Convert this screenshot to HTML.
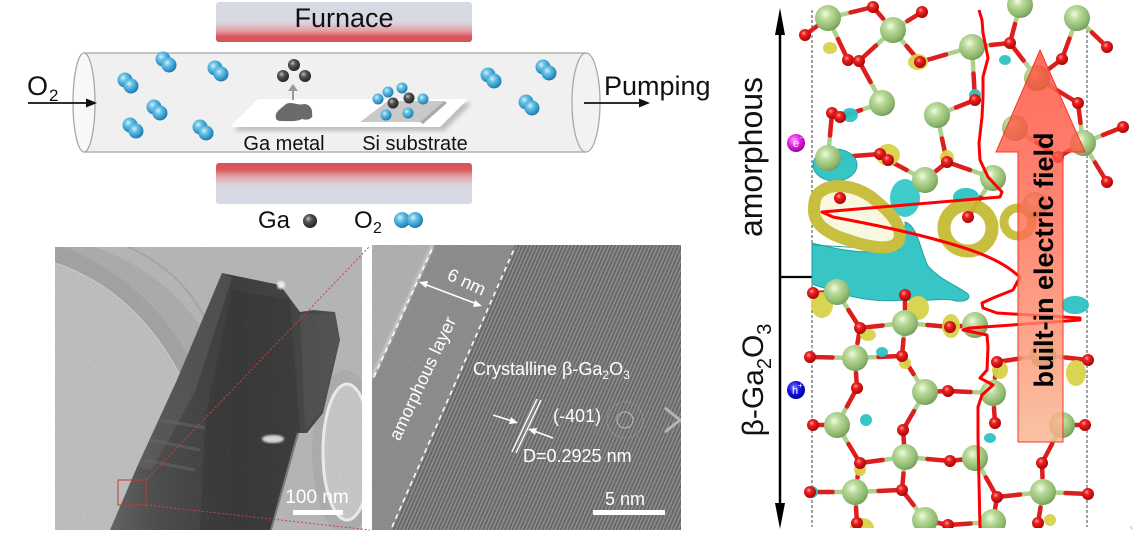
<!DOCTYPE html>
<html><head><meta charset="utf-8">
<style>
html,body{margin:0;padding:0;background:#fff;}
svg{display:block;}
text{font-family:"Liberation Sans",Arial,sans-serif;}
</style></head>
<body>
<svg width="1138" height="545" viewBox="0 0 1138 545" xmlns="http://www.w3.org/2000/svg">
<defs>
<linearGradient id="furnTop" x1="0" y1="0" x2="0" y2="1">
<stop offset="0" stop-color="#d5dbe5"/><stop offset="0.5" stop-color="#d9d7df"/>
<stop offset="0.72" stop-color="#e3a0a4"/><stop offset="0.86" stop-color="#da585e"/><stop offset="1" stop-color="#d6525a"/>
</linearGradient>
<linearGradient id="furnBot" x1="0" y1="0" x2="0" y2="1">
<stop offset="0" stop-color="#d6525a"/><stop offset="0.16" stop-color="#da585e"/>
<stop offset="0.32" stop-color="#e3a0a4"/><stop offset="0.55" stop-color="#d9d7df"/><stop offset="1" stop-color="#d5dbe5"/>
</linearGradient>
<radialGradient id="blue" cx=".38" cy=".35" r=".7"><stop offset="0" stop-color="#d8f2fc"/><stop offset=".3" stop-color="#6cc4e8"/><stop offset=".75" stop-color="#2c93c6"/><stop offset="1" stop-color="#1d6f9c"/></radialGradient>
<radialGradient id="dark" cx=".38" cy=".35" r=".7"><stop offset="0" stop-color="#c0c0c0"/><stop offset=".35" stop-color="#555"/><stop offset="1" stop-color="#1e1e1e"/></radialGradient>
<radialGradient id="gG" cx=".4" cy=".35" r=".7"><stop offset="0" stop-color="#f2fbe6"/><stop offset=".3" stop-color="#bcdc9c"/><stop offset=".8" stop-color="#8ab46a"/><stop offset="1" stop-color="#6a9050"/></radialGradient>
<radialGradient id="rO" cx=".4" cy=".35" r=".7"><stop offset="0" stop-color="#ffa0a0"/><stop offset=".3" stop-color="#ee2222"/><stop offset="1" stop-color="#a00000"/></radialGradient>
<radialGradient id="pink" cx=".4" cy=".35" r=".7"><stop offset="0" stop-color="#ff9cff"/><stop offset=".5" stop-color="#e020e0"/><stop offset="1" stop-color="#900090"/></radialGradient>
<radialGradient id="bl2" cx=".4" cy=".35" r=".7"><stop offset="0" stop-color="#8080ff"/><stop offset=".5" stop-color="#1010e0"/><stop offset="1" stop-color="#000090"/></radialGradient>
<linearGradient id="arr" gradientUnits="userSpaceOnUse" x1="0" y1="50" x2="0" y2="442">
<stop offset="0" stop-color="#ff4636"/><stop offset="0.45" stop-color="#ff6a52"/><stop offset="1" stop-color="#f8b48c"/>
</linearGradient>
<linearGradient id="rod" x1="0" y1="0" x2="1" y2="0">
<stop offset="0" stop-color="#585858"/><stop offset="0.2" stop-color="#3e3e3e"/><stop offset="0.55" stop-color="#2c2c2c"/><stop offset="0.85" stop-color="#363636"/><stop offset="1" stop-color="#444"/>
</linearGradient>
<pattern id="fr" width="3.4" height="20" patternUnits="userSpaceOnUse" patternTransform="rotate(23.7)">
<rect width="3.4" height="20" fill="#5e5e5e"/><rect width="1.3" height="20" fill="#8c8c8c"/>
</pattern>
<filter id="noise" x="0" y="0" width="100%" height="100%">
<feTurbulence type="fractalNoise" baseFrequency="0.8" numOctaves="2" seed="4"/>
<feColorMatrix type="matrix" values="1 0 0 0 0  1 0 0 0 0  1 0 0 0 0  0 0 0 0 0.12"/>
</filter>
<filter id="blur2"><feGaussianBlur stdDeviation="2"/></filter>
<filter id="blur1"><feGaussianBlur stdDeviation="1"/></filter>
<filter id="blur3"><feGaussianBlur stdDeviation="4"/></filter>
<clipPath id="cl1"><rect x="55" y="247" width="307" height="283"/></clipPath>
<clipPath id="cl2"><rect x="372" y="245" width="309" height="285"/></clipPath>
<clipPath id="cl3"><rect x="790" y="0" width="348" height="528"/></clipPath>
<circle id="gA" r="13" fill="url(#gG)"/>
<circle id="rA" r="6" fill="url(#rO)"/>
<g id="o2m"><circle cx="-3" cy="-3" r="7.5" fill="url(#blue)"/><circle cx="3" cy="3" r="7.5" fill="url(#blue)"/></g>
</defs>

<!-- ===== Top-left schematic ===== -->
<rect x="216" y="2" width="256" height="40" rx="3" fill="url(#furnTop)"/>
<text x="344" y="27" font-size="27" text-anchor="middle" fill="#111">Furnace</text>
<rect x="216" y="163" width="256" height="41" rx="3" fill="url(#furnBot)"/>

<rect x="84" y="53" width="502" height="99" fill="#f0f0f0"/>
<line x1="84" y1="53" x2="586" y2="53" stroke="#b3b3b3" stroke-width="1.5"/>
<line x1="84" y1="152" x2="586" y2="152" stroke="#b3b3b3" stroke-width="1.5"/>
<ellipse cx="84" cy="102.5" rx="11" ry="49.5" fill="#f8f8f8" stroke="#a8a8a8" stroke-width="1.3"/>
<ellipse cx="586" cy="102.5" rx="14" ry="49.5" fill="#f2f2f2" stroke="#a8a8a8" stroke-width="1.3"/>

<polygon points="234,131 262,103 472,103 444,131" fill="#bdbdbd" filter="url(#blur2)"/>
<polygon points="230,127 258,99 468,99 440,127" fill="#fff"/>
<path d="M276,118 C274,112 282,108 286,104 C292,101 298,106 304,104 C310,104 313,110 312,114 C314,118 308,121 302,119 C296,122 288,121 282,121 C278,121 276,120 276,118 Z" fill="#6b6b6b"/>
<line x1="293" y1="100" x2="293" y2="90" stroke="#9a9a9a" stroke-width="2"/>
<polygon points="288,91 298,91 293,84" fill="#9a9a9a"/>
<circle cx="283" cy="76" r="6" fill="url(#dark)"/><circle cx="294" cy="65" r="6" fill="url(#dark)"/><circle cx="305" cy="76" r="6" fill="url(#dark)"/>
<polygon points="360,122 388,101 444,101 420,122" fill="#c9c9c9"/>
<polygon points="420,122 444,101 447,103 423,124" fill="#a9a9a9"/>
<circle cx="378" cy="99" r="5.5" fill="url(#blue)"/><circle cx="388" cy="92" r="5.5" fill="url(#blue)"/><circle cx="402" cy="88" r="5.5" fill="url(#blue)"/>
<circle cx="423" cy="99" r="5.5" fill="url(#blue)"/><circle cx="386" cy="115" r="5.5" fill="url(#blue)"/><circle cx="408" cy="113" r="5.5" fill="url(#blue)"/>
<circle cx="393" cy="103" r="5.5" fill="url(#dark)"/><circle cx="409" cy="98" r="5.5" fill="url(#dark)"/>
<text x="284" y="150" font-size="20" text-anchor="middle" fill="#111">Ga metal</text>
<text x="415" y="150" font-size="20" text-anchor="middle" fill="#111">Si substrate</text>

<use href="#o2m" x="128" y="83"/><use href="#o2m" x="166" y="62"/>
<use href="#o2m" x="218" y="71"/><use href="#o2m" x="157" y="110"/>
<use href="#o2m" x="133" y="128"/><use href="#o2m" x="203" y="130"/>
<use href="#o2m" x="491" y="78"/><use href="#o2m" x="546" y="70"/><use href="#o2m" x="529" y="105"/>

<text x="27" y="95" font-size="27" fill="#111">O</text><text x="49" y="101" font-size="17" fill="#111">2</text>
<line x1="28" y1="103" x2="88" y2="103" stroke="#111" stroke-width="1.8"/>
<polygon points="97,103 86,98.5 86,107.5" fill="#111"/>
<text x="604" y="95" font-size="27" fill="#111">Pumping</text>
<line x1="584" y1="103" x2="641" y2="103" stroke="#111" stroke-width="1.8"/>
<polygon points="650,103 639,98.5 639,107.5" fill="#111"/>

<text x="258" y="228" font-size="24" fill="#111">Ga</text>
<circle cx="310" cy="221" r="7" fill="url(#dark)"/>
<text x="354" y="228" font-size="24" fill="#111">O</text><text x="373" y="233" font-size="16" fill="#111">2</text>
<circle cx="402" cy="220" r="8" fill="url(#blue)"/><circle cx="415" cy="220" r="8" fill="url(#blue)"/>

<!-- ===== Left TEM ===== -->
<g clip-path="url(#cl1)">
<rect x="55" y="247" width="307" height="283" fill="#b3b3b3"/>
<path d="M55,263 Q135,290 180,375 L110,530 L55,530 Z" fill="#bcbcbc"/>
<path d="M55,263 Q135,290 180,375 L188,355 Q145,280 65,247 L55,247 Z" fill="#9e9e9e"/>
<path d="M65,247 Q145,280 188,355 L200,325 Q160,270 95,247 Z" fill="#a8a8a8"/>
<path d="M128,247 Q180,270 205,318" stroke="#a2a2a2" stroke-width="2" fill="none"/>
<path d="M55,263 Q135,290 180,375" stroke="#cacaca" stroke-width="1.2" fill="none"/>
<ellipse cx="345" cy="452" rx="33" ry="82" fill="#a9a9a9"/>
<ellipse cx="347" cy="452" rx="24" ry="68" fill="#c6c6c6" stroke="#f0f0f0" stroke-width="3"/>
<polygon points="222,273 280,285 300,312 313,310 335,312 340,340 323,413 307,433 297,433 293,447 270,530 110,530 137,467 177,380" fill="url(#rod)"/>
<polygon points="232,290 290,300 300,430 272,530 200,530 205,420" fill="#222" opacity=".45"/>
<polygon points="177,380 222,273 232,278 195,392 152,470 137,467" fill="#6a6a6a" opacity=".3"/>
<polygon points="300,314 335,314 338,340 322,410 305,430" fill="#474747" opacity=".6"/>
<path d="M150,440 L200,450 M145,460 L195,470 M160,420 L205,428" stroke="#5e5e5e" stroke-width="3" opacity=".5"/>
<ellipse cx="273" cy="439" rx="11" ry="4" fill="#d8d8d8" filter="url(#blur1)"/>
<circle cx="281" cy="285" r="4" fill="#f4f4f4" filter="url(#blur1)"/>
<rect x="55" y="247" width="307" height="283" filter="url(#noise)"/>
</g>
<rect x="118" y="480" width="28" height="25" fill="none" stroke="#c0392b" stroke-width="1"/>
<line x1="146" y1="480" x2="370" y2="246" stroke="#d04040" stroke-width="1" stroke-dasharray="2,2"/>
<line x1="146" y1="505" x2="370" y2="530" stroke="#d04040" stroke-width="1" stroke-dasharray="2,2"/>
<rect x="293" y="510" width="50" height="5" fill="#fff"/>
<text x="317" y="503" font-size="19" text-anchor="middle" fill="#fff">100 nm</text>

<!-- ===== Right HRTEM ===== -->
<g clip-path="url(#cl2)">
<rect x="372" y="245" width="309" height="285" fill="url(#fr)"/>
<polygon points="433,245 515,245 392,530 372,530 372,375" fill="#858585"/>
<polygon points="372,245 433,245 372,378" fill="#adadad"/>
<line x1="433" y1="245" x2="372" y2="378" stroke="#d0d0d0" stroke-width="3" filter="url(#blur1)"/>
<rect x="372" y="245" width="309" height="285" filter="url(#noise)"/>
<circle cx="625" cy="420" r="18" fill="none" stroke="#aaa" stroke-width="1" stroke-dasharray="1,2"/>
<circle cx="625" cy="420" r="8" fill="none" stroke="#bbb" stroke-width="1"/>
<path d="M665,408 L680,420 L665,432" stroke="#b5b5b5" stroke-width="3" fill="none"/>
</g>
<line x1="374" y1="377" x2="433" y2="247" stroke="#fff" stroke-width="1.5" stroke-dasharray="5,4"/>
<line x1="392" y1="527" x2="515" y2="247" stroke="#fff" stroke-width="1.5" stroke-dasharray="5,4"/>
<line x1="424" y1="284" x2="477" y2="304" stroke="#fff" stroke-width="1.5"/>
<polygon points="419,282 428,281 426,288" fill="#fff"/>
<polygon points="482,306 473,307 475,300" fill="#fff"/>
<text x="0" y="0" font-size="18" fill="#fff" transform="translate(446,279) rotate(25)">6 nm</text>
<text x="0" y="0" font-size="18" fill="#fff" text-anchor="middle" transform="translate(428,381) rotate(-64.8)">amorphous layer</text>
<text x="473" y="375" font-size="18" fill="#fff">Crystalline β-Ga<tspan font-size="12" dy="4">2</tspan><tspan dy="-4">O</tspan><tspan font-size="12" dy="4">3</tspan></text>
<line x1="512" y1="452" x2="537" y2="399" stroke="#fff" stroke-width="1.4"/>
<line x1="516" y1="453" x2="541" y2="400" stroke="#fff" stroke-width="1.4"/>
<line x1="493" y1="415" x2="512" y2="421" stroke="#fff" stroke-width="1.5"/>
<polygon points="518,423 509,424 511,417" fill="#fff"/>
<line x1="553" y1="438" x2="534" y2="431" stroke="#fff" stroke-width="1.5"/>
<polygon points="528,429 537,428 535,435" fill="#fff"/>
<text x="553" y="422" font-size="18" fill="#fff">(-401)</text>
<text x="523" y="462" font-size="18" fill="#fff">D=0.2925 nm</text>
<text x="605" y="505" font-size="18" fill="#fff">5 nm</text>
<rect x="593" y="510" width="72" height="5" fill="#fff"/>

<!-- ===== Right panel ===== -->
<line x1="780" y1="30" x2="780" y2="506" stroke="#000" stroke-width="2.5"/>
<polygon points="780,8 775,35 785,35" fill="#000"/>
<polygon points="780,529 775,503 785,503" fill="#000"/>
<line x1="780" y1="277" x2="812" y2="277" stroke="#000" stroke-width="2.2"/>
<line x1="812" y1="10" x2="812" y2="527" stroke="#444" stroke-width="1" stroke-dasharray="3,2"/>
<line x1="1087" y1="10" x2="1087" y2="527" stroke="#444" stroke-width="1" stroke-dasharray="3,2"/>
<text x="0" y="0" font-size="32" text-anchor="middle" fill="#111" transform="translate(762,157) rotate(-90)">amorphous</text>
<text x="0" y="0" font-size="30" text-anchor="middle" fill="#111" transform="translate(763,380) rotate(-90)">β-Ga<tspan font-size="20" dy="8">2</tspan><tspan dy="-8">O</tspan><tspan font-size="20" dy="8">3</tspan></text>
<circle cx="796" cy="143" r="9" fill="url(#pink)"/>
<text x="796" y="147" font-size="11" fill="#fff" text-anchor="middle">e</text><text x="800" y="140" font-size="8" fill="#fff">-</text>
<circle cx="796" cy="390" r="9" fill="url(#bl2)"/>
<text x="795" y="394" font-size="11" fill="#fff" text-anchor="middle">h</text><text x="798" y="388" font-size="8" fill="#fff">+</text>

<g clip-path="url(#cl3)">
<!-- bonds green halves -->
<path stroke="#aed08e" stroke-width="4.5" stroke-linecap="round" fill="none" d="M828 18L816.5 26.5M828 18L838 39M828 18L850.5 12.5M893 30L876 45.5M893 30L883 18.5M893 30L907.5 21M893 30L906.5 46M972 47L946 54.5M972 47L991 45M972 47L973.5 73.5M1020 5L1015 24M1037 78L1023.5 60.5M1037 78L1049.5 68.5M1037 78L1057.5 90.5M1077 18L1069.5 38.5M1077 18L1092 32.5M1083 143L1080.5 123M1083 143L1103 135M1083 143L1095 162.5M1083 143L1070.5 150M1015 128L1036.5 142.5M882 103L870.5 82M882 103L861 110M828 158L830 135.5M828 158L854 156M937 115L956 107.5M937 115L942 138.5M925 180L936 171M925 180L906.5 170M993 178L970 170M993 178L980.5 197.5M837 292L825 292.5M837 292L848.5 310M905 323L882.5 325.5M905 323L905 309M905 323L927.5 325M905 323L903.5 339.5M975 325L962.5 326M855 358L857.5 343M855 358L832.5 357.5M855 358L878.5 357M855 358L856 373M925 392L913.5 374M925 392L936.5 391.5M925 392L914 411M993 393L970.5 392M993 393L995 377.5M993 393L994 408M1043 355L1020 358.5M1043 355L1065.5 357.5M837 425L847 406.5M837 425L825 425M837 425L848.5 444M905 457L904 443.5M905 457L882.5 460M905 457L927.5 459M905 457L903.5 473.5M975 458L962.5 459.5M975 458L986 477.5M855 492L857.5 477.5M855 492L832.5 492M855 492L878.5 491M855 492L856 507.5M925 520L913.5 505M925 520L936.5 522.5M1043 492L1020 494.5M1043 492L1065.5 493M1043 492L1042.5 477.5M1043 492L1040.5 507.5M1062 425L1052 444M1062 425L1073.5 425M993 522L995 509.5M993 522L970.5 523.5"/>
<!-- bonds red halves -->
<path stroke="#dd1e1e" stroke-width="4.5" stroke-linecap="round" fill="none" d="M805 35L816.5 26.5M848 60L838 39M873 7L850.5 12.5M873 7L883 18.5M859 61L876 45.5M859 61L870.5 82M922 12L907.5 21M920 62L906.5 46M920 62L946 54.5M1010 43L991 45M1010 43L1015 24M1010 43L1023.5 60.5M975 100L973.5 73.5M975 100L956 107.5M1062 59L1069.5 38.5M1062 59L1049.5 68.5M1107 47L1092 32.5M1078 103L1057.5 90.5M1078 103L1080.5 123M1123 127L1103 135M1107 182L1095 162.5M1058 157L1070.5 150M1058 157L1036.5 142.5M840 117L861 110M832 113L830 135.5M880 154L854 156M947 162L942 138.5M947 162L936 171M947 162L970 170M888 160L906.5 170M968 217L980.5 197.5M813 293L825 292.5M860 328L848.5 310M860 328L882.5 325.5M860 328L857.5 343M905 295L905 309M950 327L927.5 325M950 327L962.5 326M902 356L903.5 339.5M902 356L878.5 357M902 356L913.5 374M810 357L832.5 357.5M857 388L856 373M857 388L847 406.5M948 391L936.5 391.5M948 391L970.5 392M997 362L995 377.5M997 362L1020 358.5M1088 360L1065.5 357.5M995 423L994 408M813 425L825 425M860 463L848.5 444M860 463L882.5 460M860 463L857.5 477.5M903 430L914 411M903 430L904 443.5M950 461L927.5 459M950 461L962.5 459.5M902 490L903.5 473.5M902 490L878.5 491M902 490L913.5 505M810 492L832.5 492M857 523L856 507.5M997 497L986 477.5M997 497L1020 494.5M997 497L995 509.5M1088 494L1065.5 493M1042 463L1042.5 477.5M1042 463L1052 444M1085 425L1073.5 425M1038 523L1040.5 507.5M948 525L936.5 522.5M948 525L970.5 523.5"/>

<!-- isosurfaces -->
<g opacity=".95">
<path d="M812,243 C840,250 870,256 892,248 C902,240 906,228 905,222 C918,226 920,250 928,266 C940,280 958,286 968,294 C972,300 962,303 952,300 C940,298 925,302 905,300 C885,302 866,300 850,296 C836,291 822,288 812,284 Z" fill="#2ec2c4" stroke="#1a9ea0" stroke-width="1"/>
<path d="M812,245 L900,250" stroke="#1a9ea0" stroke-width="1" fill="none"/>
<ellipse cx="835" cy="165" rx="22" ry="16" fill="#2ec2c4" stroke="#1a9ea0" stroke-width="1"/>
<ellipse cx="905" cy="198" rx="15" ry="19" fill="#36caca"/>
<ellipse cx="966" cy="197" rx="13" ry="9" fill="#2ec2c4"/>
<path d="M820,192 C835,180 862,188 875,200 C890,212 905,228 898,242 C890,252 865,246 848,240 C828,234 814,225 814,210 C814,200 816,195 820,192 Z" fill="#e8e4a0" fill-opacity=".35" stroke="#c6bc36" stroke-width="12"/>
<ellipse cx="968" cy="228" rx="24" ry="23" fill="none" stroke="#c6bc36" stroke-width="13"/>
<ellipse cx="1018" cy="222" rx="14" ry="14" fill="none" stroke="#c6bc36" stroke-width="9"/>
<ellipse cx="822" cy="305" rx="11" ry="13" fill="#d9d24a"/>
<ellipse cx="918" cy="308" rx="11" ry="12" fill="#d9d24a"/>
<ellipse cx="951" cy="326" rx="9" ry="12" fill="#d9d24a"/>
<ellipse cx="1076" cy="373" rx="10" ry="13" fill="#d9d24a"/>
<ellipse cx="1075" cy="305" rx="14" ry="9" fill="#2ec2c4"/>
<ellipse cx="868" cy="335" rx="8" ry="6" fill="#d9d24a"/>
<ellipse cx="882" cy="352" rx="6" ry="5" fill="#2ec2c4"/>
<ellipse cx="918" cy="62" rx="10" ry="8" fill="#d9d24a"/><ellipse cx="920" cy="62" rx="6" ry="5" fill="#2ec2c4"/>
<ellipse cx="888" cy="155" rx="12" ry="11" fill="#d9d24a"/><ellipse cx="850" cy="115" rx="8" ry="7" fill="#2ec2c4"/>
<ellipse cx="947" cy="158" rx="7" ry="8" fill="#d9d24a"/><ellipse cx="975" cy="95" rx="6" ry="6" fill="#2ec2c4"/>
<ellipse cx="866" cy="420" rx="6" ry="6" fill="#2ec2c4"/><ellipse cx="905" cy="363" rx="6" ry="6" fill="#d9d24a"/>
<ellipse cx="990" cy="438" rx="6" ry="5" fill="#2ec2c4"/><ellipse cx="1000" cy="370" rx="8" ry="9" fill="#d9d24a"/>
<ellipse cx="862" cy="528" rx="12" ry="10" fill="#d9d24a"/><ellipse cx="812" cy="492" rx="6" ry="6" fill="#2ec2c4"/>
<ellipse cx="1050" cy="520" rx="6" ry="6" fill="#d9d24a"/><ellipse cx="860" cy="470" rx="6" ry="6" fill="#d9d24a"/>
<ellipse cx="830" cy="48" rx="7" ry="6" fill="#d9d24a"/><ellipse cx="1005" cy="60" rx="6" ry="5" fill="#2ec2c4"/>
</g>

<!-- atoms -->
<use href="#gA" x="828" y="18"/><use href="#gA" x="893" y="30"/><use href="#gA" x="972" y="47"/><use href="#gA" x="1020" y="5"/><use href="#gA" x="1077" y="18"/>
<use href="#gA" x="882" y="103"/><use href="#gA" x="937" y="115"/><use href="#gA" x="1037" y="78"/><use href="#gA" x="1015" y="128"/><use href="#gA" x="1083" y="143"/>
<use href="#gA" x="828" y="158"/><use href="#gA" x="925" y="180"/><use href="#gA" x="993" y="178"/><use href="#gA" x="1035" y="205"/>
<use href="#gA" x="837" y="292"/><use href="#gA" x="905" y="323"/><use href="#gA" x="975" y="325"/><use href="#gA" x="855" y="358"/><use href="#gA" x="925" y="392"/>
<use href="#gA" x="993" y="393"/><use href="#gA" x="837" y="425"/><use href="#gA" x="905" y="457"/><use href="#gA" x="975" y="458"/><use href="#gA" x="1062" y="425"/>
<use href="#gA" x="855" y="492"/><use href="#gA" x="1043" y="492"/><use href="#gA" x="925" y="520"/><use href="#gA" x="993" y="522"/><use href="#gA" x="1043" y="355"/>
<use href="#rA" x="805" y="35"/><use href="#rA" x="848" y="60"/><use href="#rA" x="859" y="61"/><use href="#rA" x="1010" y="43"/><use href="#rA" x="1107" y="47"/>
<use href="#rA" x="1062" y="59"/><use href="#rA" x="1078" y="103"/><use href="#rA" x="1123" y="127"/><use href="#rA" x="975" y="100"/><use href="#rA" x="832" y="113"/>
<use href="#rA" x="840" y="117"/><use href="#rA" x="880" y="154"/><use href="#rA" x="888" y="160"/><use href="#rA" x="947" y="162"/><use href="#rA" x="1107" y="182"/>
<use href="#rA" x="1058" y="157"/><use href="#rA" x="968" y="217"/><use href="#rA" x="840" y="198"/><use href="#rA" x="873" y="7"/><use href="#rA" x="922" y="12"/><use href="#rA" x="920" y="62"/>
<use href="#rA" x="813" y="293"/><use href="#rA" x="905" y="295"/><use href="#rA" x="860" y="328"/><use href="#rA" x="950" y="327"/><use href="#rA" x="810" y="357"/>
<use href="#rA" x="902" y="356"/><use href="#rA" x="997" y="362"/><use href="#rA" x="1088" y="360"/><use href="#rA" x="857" y="388"/><use href="#rA" x="948" y="391"/>
<use href="#rA" x="903" y="430"/><use href="#rA" x="995" y="423"/><use href="#rA" x="813" y="425"/><use href="#rA" x="1085" y="425"/><use href="#rA" x="860" y="463"/>
<use href="#rA" x="950" y="461"/><use href="#rA" x="1042" y="463"/><use href="#rA" x="810" y="492"/><use href="#rA" x="902" y="490"/><use href="#rA" x="997" y="497"/>
<use href="#rA" x="1088" y="494"/><use href="#rA" x="857" y="523"/><use href="#rA" x="948" y="525"/><use href="#rA" x="1038" y="523"/>

<!-- red curve -->
<path d="M979,10 L982,20 L983,33 L988,58 L983,77 L983,97 L982,117 L979,143 L980,160 L988,177 L1002,192 L1000,197 L822,212 L833,217 C860,222 900,230 930,238 C960,246 995,256 1015,273 L1020,277 L1013,290 L993,298 L982,303 L983,308 L997,313 L1080,318 L1080,320 L970,328 L963,330 L987,335 L988,347 L987,370 L980,378 L993,385 L982,395 L978,407 L978,437 L980,528" fill="none" stroke="#ff0000" stroke-width="3" stroke-linejoin="round"/>
</g>

<!-- built-in field arrow -->
<polygon points="1040,50 1085,152 1063,152 1063,442 1018,442 1018,152 996,152" fill="url(#arr)" fill-opacity=".8" stroke="#f03a2a" stroke-width="1"/>
<text x="0" y="0" font-size="27" font-weight="bold" text-anchor="middle" fill="#000" transform="translate(1053,260) rotate(-90)">built-in electric field</text>
<text x="1130" y="530" font-size="9" fill="#aaa">‹</text>
</svg>
</body></html>
